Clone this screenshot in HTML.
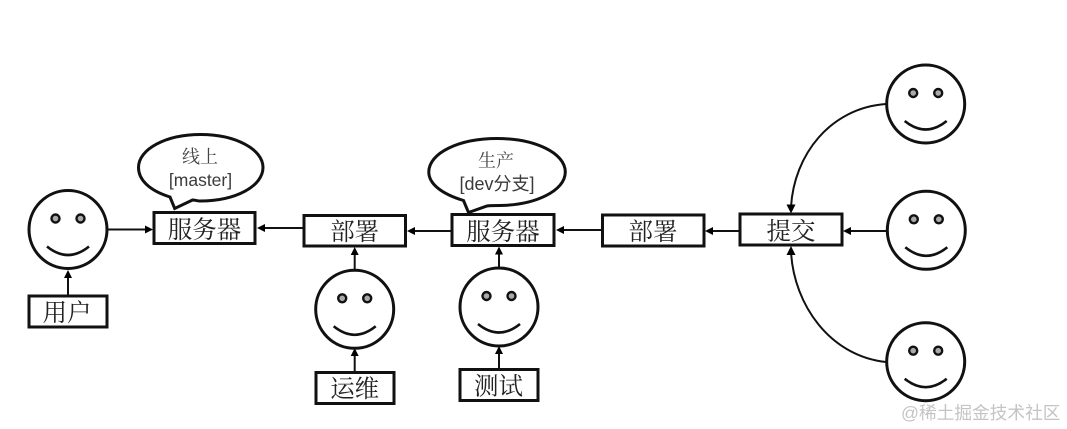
<!DOCTYPE html>
<html>
<head>
<meta charset="utf-8">
<style>
html,body{margin:0;padding:0;background:#fff;width:1067px;height:429px;overflow:hidden}
svg{display:block}
.b{fill:#fff;stroke:#111;stroke-width:3}
.f{fill:#fff;stroke:#111;stroke-width:3}
.e{fill:#aaa;stroke:#111;stroke-width:2.4}
.s{fill:none;stroke:#111;stroke-width:2.6}
.l{fill:none;stroke:#111;stroke-width:2}
.a{fill:#000}
.t{font-family:"Liberation Serif","Noto Serif CJK SC",serif;font-size:24.5px;fill:#222;text-anchor:middle}
.c{font-family:"Liberation Sans","Noto Sans CJK SC",sans-serif;font-size:17.500px;fill:#3a3a3a;text-anchor:middle}
.z{font-family:"Liberation Serif","Noto Serif CJK SC",serif;font-size:18px;fill:#444;text-anchor:middle}
.w{font-family:"Liberation Sans","Noto Sans CJK SC",sans-serif;font-size:17.700px;fill:#c4c4c4}
</style>
</head>
<body>
<svg width="1067" height="429" viewBox="0 0 1067 429" xmlns="http://www.w3.org/2000/svg">
<defs>
<g id="face">
<circle class="f" r="39"/>
<circle class="e" cx="-12.500" cy="-11" r="4"/>
<circle class="e" cx="12.500" cy="-11" r="4"/>
<path class="s" d="M-21 17 Q0 34 21 17"/>
</g>
</defs>

<!-- connectors -->
<path class="l" d="M107 229.500H148"/><path class="a" d="M153 229.500l-8-4v8z"/>
<path class="l" d="M303 228H262"/><path class="a" d="M257 228l8-4v8z"/>
<path class="l" d="M452 231H412"/><path class="a" d="M407 231l8-4v8z"/>
<path class="l" d="M602 230H561"/><path class="a" d="M556 230l8-4v8z"/>
<path class="l" d="M740 231H710"/><path class="a" d="M705 231l8-4v8z"/>
<path class="l" d="M887 231H848"/><path class="a" d="M843 231l8-4v8z"/>
<path class="l" d="M68 296V276"/><path class="a" d="M68 270l-4 8h8z"/>
<path class="l" d="M354.700 270V253"/><path class="a" d="M354.700 247l-4 8h8z"/>
<path class="l" d="M354.700 372V354"/><path class="a" d="M354.700 348l-4 8h8z"/>
<path class="l" d="M499 268V252"/><path class="a" d="M499 246.500l-4 8h8z"/>
<path class="l" d="M499 369V352"/><path class="a" d="M499 346l-4 8h8z"/>
<path class="l" d="M886 104C830 108 794 155 791 207"/><path class="a" d="M791 213.500l-4.500-9h9z"/>
<path class="l" d="M886 362C830 356 794 305 791 252"/><path class="a" d="M791 246l-4.500 9h9z"/>

<!-- boxes -->
<rect class="b" x="154" y="212.500" width="101" height="31"/>
<rect class="b" x="304" y="215.500" width="101.500" height="30.500"/>
<rect class="b" x="452" y="214.500" width="102" height="31"/>
<rect class="b" x="602.500" y="215" width="101.500" height="31"/>
<rect class="b" x="740" y="214" width="102" height="31"/>
<rect class="b" x="29" y="296" width="78" height="31"/>
<rect class="b" x="316" y="372.500" width="78" height="31"/>
<rect class="b" x="460" y="369.500" width="78" height="31"/>

<!-- faces -->
<use href="#face" x="68" y="229.500"/>
<use href="#face" x="354.700" y="309.300"/>
<use href="#face" x="499" y="307"/>
<use href="#face" x="925.700" y="104"/>
<use href="#face" x="926.300" y="230.300"/>
<use href="#face" x="925.700" y="361.700"/>

<!-- speech bubbles -->
<path class="f" d="M170 197 C148 190 138.500 179 138.500 167.500 C138.500 149 166 134.500 200.700 134.500 C235 134.500 263 149 263 167.500 C263 186 236 201 200 201 C198 201 195 200 192.500 200 L174.700 208.500 Z"/>
<path class="f" d="M463.500 200.500 C442 194 428.800 184 428.800 172 C428.800 153 459 138.500 497 138.500 C535 138.500 565.300 153 565.300 172 C565.300 191 535 205 500 205.500 C496 205.500 490 205.500 487 206 L468.500 212.500 Z"/>

<!-- labels -->
<text class="t" x="204.500" y="238">服务器</text>
<text class="t" x="354.700" y="240">部署</text>
<text class="t" x="503" y="240">服务器</text>
<text class="t" x="653" y="240">部署</text>
<text class="t" x="791" y="239.500">提交</text>
<text class="t" x="67" y="321">用户</text>
<text class="t" x="354.700" y="397">运维</text>
<text class="t" x="498.500" y="394.500">测试</text>
<text class="z" x="200" y="163">线上</text>
<text class="c" x="200.500" y="186">[master]</text>
<text class="z" x="496" y="167">生产</text>
<text class="c" x="497" y="190" style="font-size:18px">[dev分支]</text>
<text class="w" x="901" y="419">@稀土掘金技术社区</text>
</svg>
</body>
</html>
